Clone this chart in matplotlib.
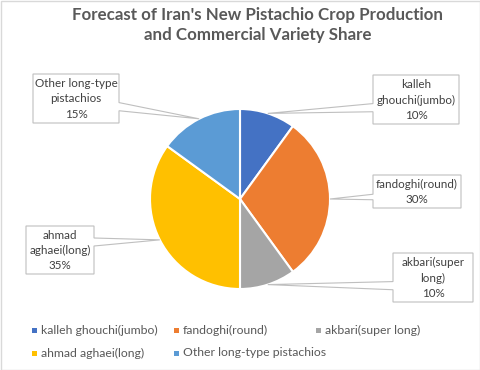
import matplotlib
matplotlib.use('Agg')
import matplotlib.pyplot as plt
from matplotlib.patches import Polygon, Rectangle
import numpy as np

plt.rcParams['font.family'] = ['Lato', 'DejaVu Sans']

# data
varieties = ['kalleh ghouchi(jumbo)', 'fandoghi(round)', 'akbari(super long)',
             'ahmad aghaei(long)', 'Other long-type pistachios']
label_names = ['kalleh\nghouchi(jumbo)', 'fandoghi(round)', 'akbari(super\nlong)',
               'ahmad\naghaei(long)', 'Other long-type\npistachios']
shares = [10, 30, 10, 35, 15]
colors = ['#4472C4', '#ED7D31', '#A5A5A5', '#FFC000', '#5B9BD5']

W, H = 480, 370


def Y(y):
    # image pixel row -> axes y (up)
    return H - y


fig = plt.figure(figsize=(4.8, 3.7), dpi=100)
ax = fig.add_axes([0, 0, 1, 1])

cx, cy, r = 240, Y(199), 90
wedges, _ = ax.pie(shares, colors=colors, startangle=90, counterclock=False,
                   center=(cx, cy), radius=r,
                   wedgeprops=dict(edgecolor='white', linewidth=1.5))
ax.set_xlim(0, W)
ax.set_ylim(0, H)
ax.axis('off')

# callout boxes (image px: x0, x1, y0, y1)
boxes = [(373, 459, 75, 124), (373, 461, 175, 208), (393, 473, 253, 302),
         (26, 94, 226, 274), (33, 119, 74, 123)]

total = float(sum(shares))
for w, (x0, x1, y0, y1), name, v in zip(wedges, boxes, label_names, shares):
    mid = np.deg2rad((w.theta1 + w.theta2) / 2)
    tx, ty = cx + r * np.cos(mid), cy + r * np.sin(mid)
    top, bot = Y(y0), Y(y1)
    h = top - bot
    if H - ty > (y0 + y1) / 2:
        b1, b2 = top - h * 7 / 12, top - h * 9 / 12
    else:
        b1, b2 = top - h * 3 / 12, top - h * 5 / 12
    if tx < x0:
        verts = [(x0, top), (x1, top), (x1, bot), (x0, bot),
                 (x0, b2), (tx, ty), (x0, b1)]
    else:
        verts = [(x0, top), (x1, top), (x1, b1), (tx, ty), (x1, b2),
                 (x1, bot), (x0, bot)]
    ax.add_patch(Polygon(verts, closed=True, facecolor='white',
                         edgecolor='#BFBFBF', linewidth=0.8, zorder=4))
    ax.text((x0 + x1) / 2, (top + bot) / 2 - 0.5,
            '%s\n%d%%' % (name, round(v / total * 100)),
            ha='center', va='center', fontsize=8.4, color='#404040',
            linespacing=1.45, zorder=5)

# title
ax.text(258, Y(25), "Forecast of Iran's New Pistachio Crop Production\n"
        "and Commercial Variety Share", ha='center', va='center',
        fontsize=12.2, fontweight='bold', color='#595959', linespacing=1.3)

# legend, row-major like Excel
for i, (name, c) in enumerate(zip(varieties, colors)):
    lx = 34 + 142 * (i % 3)
    ly = Y(330 + 23 * (i // 3))
    ax.add_patch(Rectangle((lx - 2.5, ly - 2.5), 5, 5, facecolor=c,
                           edgecolor='none'))
    ax.text(lx + 7, ly, name, ha='left', va='center', fontsize=8.8,
            color='#595959')

# outer border
ax.add_patch(Rectangle((0.5, 0.5), W - 1, H - 1, fill=False,
                       edgecolor='#D9D9D9', linewidth=1, zorder=6))

fig.savefig('out.png', dpi=100)
